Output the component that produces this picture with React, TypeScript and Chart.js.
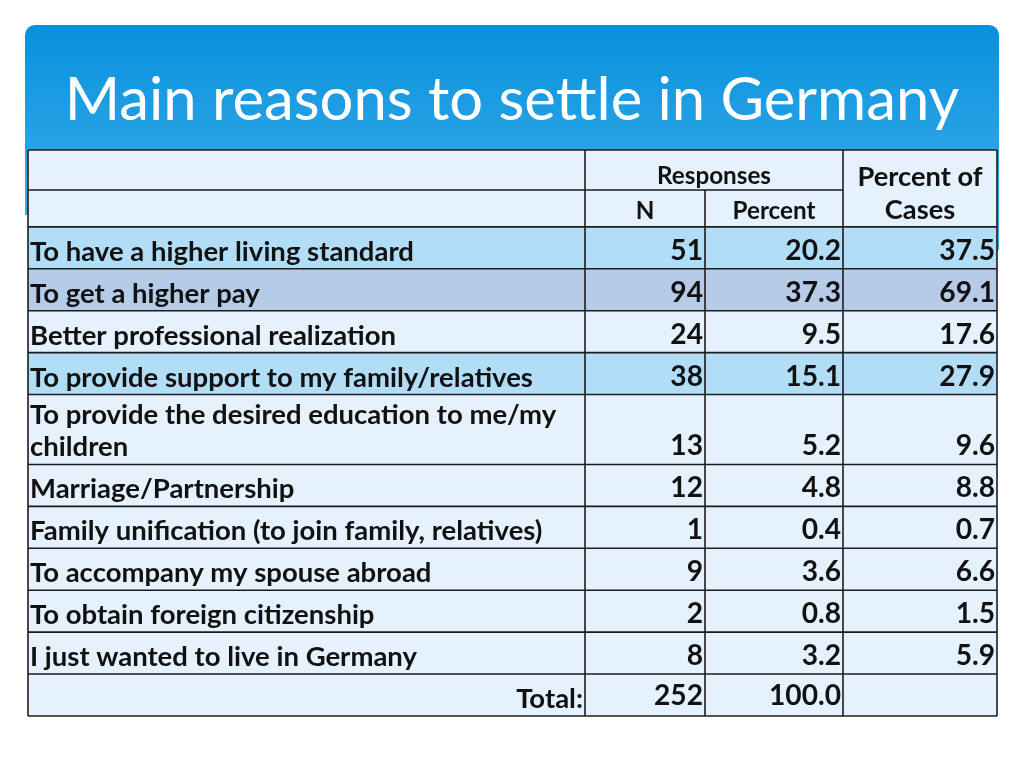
import React, { useEffect, useRef } from "react";
import { Chart, registerables } from "chart.js";

Chart.register(...registerables);

// ---- data ----
const titleText = "Main reasons to settle in Germany";
const groupHeader = "Responses";
const subHeaders = ["N", "Percent"];
const casesHeader = ["Percent of", "Cases"];
const reasons = [
  "To have a higher living standard",
  "To get a higher pay",
  "Better professional realization",
  "To provide support to my family/relatives",
  "To provide the desired education to me/my children",
  "Marriage/Partnership",
  "Family unification (to join family, relatives)",
  "To accompany my spouse abroad",
  "To obtain foreign citizenship",
  "I just wanted to live in Germany",
];
const responsesN = [51, 94, 24, 38, 13, 12, 1, 9, 2, 8];
const responsesPercent = [20.2, 37.3, 9.5, 15.1, 5.2, 4.8, 0.4, 3.6, 0.8, 3.2];
const percentOfCases = [37.5, 69.1, 17.6, 27.9, 9.6, 8.8, 0.7, 6.6, 1.5, 5.9];
const totalLabel = "Total:";
const totalN = 252;
const totalPercent = 100.0;

// ---- layout / style (not data) ----
const colUnits = [557, 120, 138, 154];
const headerRowUnits = [40, 37];
const singleRowUnits = 42;
const doubleRowUnits = 70;
const rowStyles = ["hl", "hl2", "plain", "hl", "plain", "plain", "plain", "plain", "plain", "plain"];
const fills: Record<string, string> = { hl: "#b2ddf7", hl2: "#b6cbe8", plain: "#e5f1fc" };
const FONT = "Lato, 'Open Sans', sans-serif";

function fitSize(ctx: CanvasRenderingContext2D, text: string, width: number, weight: string) {
  ctx.font = `${weight} 100px ${FONT}`;
  return (100 * width) / ctx.measureText(text).width;
}

function wrap(ctx: CanvasRenderingContext2D, text: string, maxW: number) {
  const words = text.split(" ");
  const lines: string[] = [];
  let cur = "";
  for (const w of words) {
    const t = cur ? cur + " " + w : w;
    if (ctx.measureText(t).width > maxW && cur) {
      lines.push(cur);
      cur = w;
    } else cur = t;
  }
  if (cur) lines.push(cur);
  return lines;
}

const tablePlugin = {
  id: "tablePlugin",
  beforeDraw(chart: any) {
    const ctx: CanvasRenderingContext2D = chart.ctx;
    // banner
    ctx.save();
    const g = ctx.createLinearGradient(0, 25, 0, 250);
    g.addColorStop(0, "#0790dc");
    g.addColorStop(1, "#45b3ee");
    ctx.fillStyle = g;
    ctx.beginPath();
    (ctx as any).roundRect(25, 25, 974, 190, [10, 10, 0, 0]);
    ctx.fill();
    ctx.fillRect(990, 200, 9, 50);
    ctx.restore();
    // title
    ctx.save();
    const ts = fitSize(ctx, titleText, 895, "normal");
    ctx.font = `normal ${ts}px ${FONT}`;
    ctx.fillStyle = "#ffffff";
    ctx.textAlign = "center";
    ctx.textBaseline = "alphabetic";
    ctx.fillText(titleText, 512, 120);
    ctx.restore();
  },
  afterDatasetsDraw(chart: any) {
    const ctx: CanvasRenderingContext2D = chart.ctx;
    const xs = chart.scales.x;
    const ys = chart.scales.y;
    const colEdges = [0];
    colUnits.forEach((u) => colEdges.push(colEdges[colEdges.length - 1] + u));
    const X = colEdges.map((u) => xs.getPixelForValue(u));

    const bodySize = fitSize(ctx, "To provide support to my family/relatives", 503, "bold");
    ctx.font = `bold ${bodySize}px ${FONT}`;
    const maxW = X[1] - X[0] - 6;
    const wrapped = reasons.map((r) => wrap(ctx, r, maxW));
    const rowUnits = [...headerRowUnits, ...wrapped.map((l) => (l.length > 1 ? doubleRowUnits : singleRowUnits)), singleRowUnits];
    const rowEdges = [0];
    rowUnits.forEach((u) => rowEdges.push(rowEdges[rowEdges.length - 1] + u));
    const Y = rowEdges.map((u) => ys.getPixelForValue(u));

    ctx.save();
    // backgrounds
    ctx.fillStyle = fills.plain;
    ctx.fillRect(X[0], Y[0], X[4] - X[0], Y[2] - Y[0]);
    reasons.forEach((_, i) => {
      ctx.fillStyle = fills[rowStyles[i]];
      ctx.fillRect(X[0], Y[i + 2], X[4] - X[0], Y[i + 3] - Y[i + 2]);
    });
    const last = rowEdges.length - 2;
    ctx.fillStyle = fills.plain;
    ctx.fillRect(X[0], Y[last], X[4] - X[0], Y[last + 1] - Y[last]);

    // grid lines
    ctx.strokeStyle = "#1c1c1c";
    ctx.lineWidth = 1.6;
    const hline = (y: number, x0: number, x1: number) => {
      ctx.beginPath();
      ctx.moveTo(x0, y);
      ctx.lineTo(x1, y);
      ctx.stroke();
    };
    const vline = (x: number, y0: number, y1: number) => {
      ctx.beginPath();
      ctx.moveTo(x, y0);
      ctx.lineTo(x, y1);
      ctx.stroke();
    };
    Y.forEach((y, i) => {
      if (i === 1) hline(y, X[0], X[3]);
      else hline(y, X[0], X[4]);
    });
    vline(X[0], Y[0], Y[Y.length - 1]);
    vline(X[1], Y[0], Y[Y.length - 1]);
    vline(X[2], Y[1], Y[Y.length - 1]);
    vline(X[3], Y[0], Y[Y.length - 1]);
    vline(X[4], Y[0], Y[Y.length - 1]);

    // header text
    ctx.fillStyle = "#111111";
    ctx.textBaseline = "alphabetic";
    ctx.textAlign = "center";
    const hs = fitSize(ctx, groupHeader, 114, "bold");
    ctx.font = `bold ${hs}px ${FONT}`;
    ctx.fillText(groupHeader, (X[1] + X[3]) / 2, Y[1] - 6);
    ctx.fillText(subHeaders[0], (X[1] + X[2]) / 2, Y[2] - 8);
    ctx.fillText(subHeaders[1], (X[2] + X[3]) / 2, Y[2] - 8);
    const cs = fitSize(ctx, casesHeader[0], 125, "bold");
    ctx.font = `bold ${cs}px ${FONT}`;
    ctx.fillText(casesHeader[0], (X[3] + X[4]) / 2, Y[1] - 4);
    ctx.fillText(casesHeader[1], (X[3] + X[4]) / 2, Y[2] - 8);

    // body text
    const numSize = fitSize(ctx, "100.0", 72, "bold");
    wrapped.forEach((lines, i) => {
      const bottom = Y[i + 3];
      const top = Y[i + 2];
      ctx.textAlign = "left";
      ctx.font = `bold ${bodySize}px ${FONT}`;
      if (lines.length > 1) {
        ctx.fillText(lines[0], X[0] + 2, top + 29);
        ctx.fillText(lines[1], X[0] + 2, bottom - 8);
      } else {
        ctx.fillText(lines[0], X[0] + 2, bottom - 8);
      }
      ctx.textAlign = "right";
      ctx.font = `bold ${numSize}px ${FONT}`;
      ctx.fillText(String(responsesN[i]), X[2] - 2, bottom - 9);
      ctx.fillText(responsesPercent[i].toFixed(1), X[3] - 2, bottom - 9);
      ctx.fillText(percentOfCases[i].toFixed(1), X[4] - 2, bottom - 9);
    });
    const tb = Y[last + 1];
    ctx.textAlign = "right";
    ctx.font = `bold ${bodySize}px ${FONT}`;
    ctx.fillText(totalLabel, X[1] - 2, tb - 8);
    ctx.font = `bold ${numSize}px ${FONT}`;
    ctx.fillText(String(totalN), X[2] - 2, tb - 11);
    ctx.fillText(totalPercent.toFixed(1), X[3] - 2, tb - 11);
    ctx.restore();
  },
};

export default function App() {
  const ref = useRef<HTMLCanvasElement>(null);
  useEffect(() => {
    if (!ref.current) return;
    const totalCols = colUnits.reduce((a, b) => a + b, 0);
    const totalRows =
      headerRowUnits.reduce((a, b) => a + b, 0) + singleRowUnits * (reasons.length - 1) + doubleRowUnits + singleRowUnits;
    const chart = new Chart(ref.current, {
      type: "scatter",
      data: {
        datasets: [
          {
            label: "N",
            data: responsesN.map((v, i) => ({ x: 0, y: i })),
            pointRadius: 0,
            showLine: false,
          },
        ],
      },
      options: {
        responsive: false,
        animation: false,
        devicePixelRatio: 1,
        layout: { padding: { left: 28, top: 150, right: 27, bottom: 52 } },
        scales: {
          x: { type: "linear", min: 0, max: totalCols, display: false },
          y: { type: "linear", min: 0, max: totalRows, reverse: true, display: false },
        },
        plugins: { legend: { display: false }, tooltip: { enabled: false }, title: { display: false } },
        events: [],
      },
      plugins: [tablePlugin],
    });
    return () => chart.destroy();
  }, []);
  return (
    <div style={{ position: "fixed", left: 0, top: 0, width: 1024, height: 768, background: "#ffffff" }}>
      <canvas ref={ref} width={1024} height={768} style={{ width: 1024, height: 768, display: "block" }} />
    </div>
  );
}
